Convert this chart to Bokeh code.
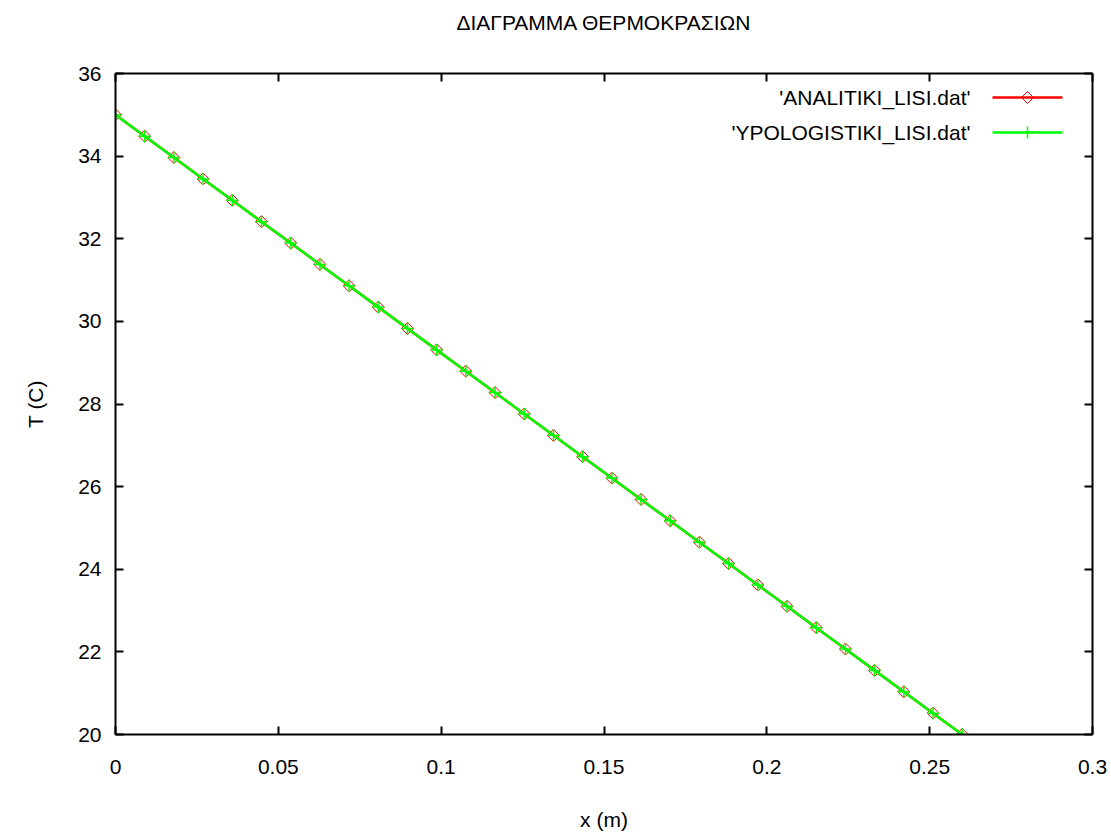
import numpy as np
from bokeh.plotting import figure
from bokeh.models import Range1d, LinearAxis, FixedTicker, Label
from bokeh.embed import file_html
from bokeh.resources import INLINE

# ---- data ----
x_m = [0.0, 0.00897, 0.01793, 0.0269, 0.03586, 0.04483, 0.0538, 0.06276, 0.07172, 0.08069,
       0.08966, 0.09862, 0.10759, 0.11655, 0.12552, 0.13448, 0.14345, 0.15241, 0.16138, 0.17034,
       0.17931, 0.18828, 0.19724, 0.20621, 0.21517, 0.22414, 0.2331, 0.24207, 0.25103, 0.26]
t_analytic = [35.0, 34.483, 33.966, 33.448, 32.931, 32.414, 31.897, 31.379, 30.862, 30.345,
              29.828, 29.310, 28.793, 28.276, 27.759, 27.241, 26.724, 26.207, 25.690, 25.172,
              24.655, 24.138, 23.621, 23.103, 22.586, 22.069, 21.552, 21.034, 20.517, 20.0]
t_numeric = [35.0, 34.483, 33.966, 33.448, 32.931, 32.414, 31.897, 31.379, 30.862, 30.345,
             29.828, 29.310, 28.793, 28.276, 27.759, 27.241, 26.724, 26.207, 25.690, 25.172,
             24.655, 24.138, 23.621, 23.103, 22.586, 22.069, 21.552, 21.034, 20.517, 20.0]
x_ticks = [0, 0.05, 0.1, 0.15, 0.2, 0.25, 0.3]
x_tick_labels = ["0", "0.05", "0.1", "0.15", "0.2", "0.25", "0.3"]
y_ticks = [20, 22, 24, 26, 28, 30, 32, 34, 36]
series_names = ["'ANALITIKI_LISI.dat'", "'YPOLOGISTIKI_LISI.dat'"]
title_text = "ΔΙΑΓΡΑΜΜΑ ΘΕΡΜΟΚΡΑΣΙΩΝ"
x_label = "x (m)"
y_label = "T (C)"

FONT = "Liberation Sans"
RED = "#ff0000"
GREEN = "#00ff00"
FW, FH = 977, 661

p = figure(width=1111, height=834, output_backend="svg", toolbar_location=None,
           x_range=Range1d(0, 0.3), y_range=Range1d(20, 36),
           min_border_left=115, min_border_right=19, min_border_top=73, min_border_bottom=100)
p.xgrid.visible = False
p.ygrid.visible = False
p.outline_line_color = None
p.background_fill_color = "white"
p.border_fill_color = "white"
p.title.visible = False

p.extra_x_ranges = {"px": Range1d(0, FW)}
p.extra_y_ranges = {"px": Range1d(0, FH)}

def style_axis(ax):
    ax.axis_line_color = "black"
    ax.axis_line_width = 2
    ax.major_tick_line_color = "black"
    ax.major_tick_line_width = 2
    ax.major_tick_in = 8
    ax.major_tick_out = 0
    ax.minor_tick_line_color = None
    ax.major_label_text_font = FONT
    ax.major_label_text_color = "black"
    ax.major_label_text_font_size = "21px"
    ax.axis_label_text_font = FONT
    ax.axis_label_text_font_size = "21px"
    ax.axis_label_text_font_style = "normal"
    ax.axis_label_text_color = "black"

xa = p.xaxis[0]
xa.ticker = FixedTicker(ticks=x_ticks)
xa.major_label_overrides = {t: l for t, l in zip(x_ticks, x_tick_labels)}
style_axis(xa)
xa.major_label_standoff = 25
xa.axis_label = x_label
xa.axis_label_standoff = 31

ya = p.yaxis[0]
ya.ticker = FixedTicker(ticks=y_ticks)
style_axis(ya)
ya.major_label_standoff = 14
ya.axis_label = y_label
ya.axis_label_standoff = 28

# top border axis carries the chart title as its label
top = LinearAxis(ticker=FixedTicker(ticks=x_ticks))
style_axis(top)
top.major_label_overrides = {t: "" for t in x_ticks}
top.major_label_standoff = 0
top.axis_label = title_text
top.axis_label_standoff = 40
p.add_layout(top, "above")

right = LinearAxis(ticker=FixedTicker(ticks=y_ticks))
style_axis(right)
right.major_label_overrides = {t: "" for t in y_ticks}
p.add_layout(right, "right")

# data
p.line(x_m, t_analytic, line_color=RED, line_width=2.5)
p.scatter(x_m, t_analytic, marker="square", angle=np.pi / 4, size=8.5,
          fill_color=None, line_color=RED, line_width=1)
p.line(x_m, t_numeric, line_color=GREEN, line_width=2.5)
p.scatter(x_m, t_numeric, marker="cross", size=12, line_color=GREEN, line_width=1.5)

# legend (gnuplot style: text left of sample)
rows = [637, 602]
p.line([877, 947], [rows[0], rows[0]], x_range_name="px", y_range_name="px",
       line_color=RED, line_width=2.5)
p.scatter([912], [rows[0]], x_range_name="px", y_range_name="px", marker="square",
          angle=np.pi / 4, size=8.5, fill_color=None, line_color=RED, line_width=1)
p.line([877, 947], [rows[1], rows[1]], x_range_name="px", y_range_name="px",
       line_color=GREEN, line_width=2.5)
p.scatter([912], [rows[1]], x_range_name="px", y_range_name="px", marker="cross",
          size=12, line_color=GREEN, line_width=1.5)
for name, yy in zip(series_names, rows):
    p.add_layout(Label(x=855, y=yy, x_range_name="px", y_range_name="px", text=name,
                       text_align="right", text_baseline="middle",
                       text_font=FONT, text_font_size="21px", text_color="black"))

open("out.html", "w").write(file_html(p, INLINE))
